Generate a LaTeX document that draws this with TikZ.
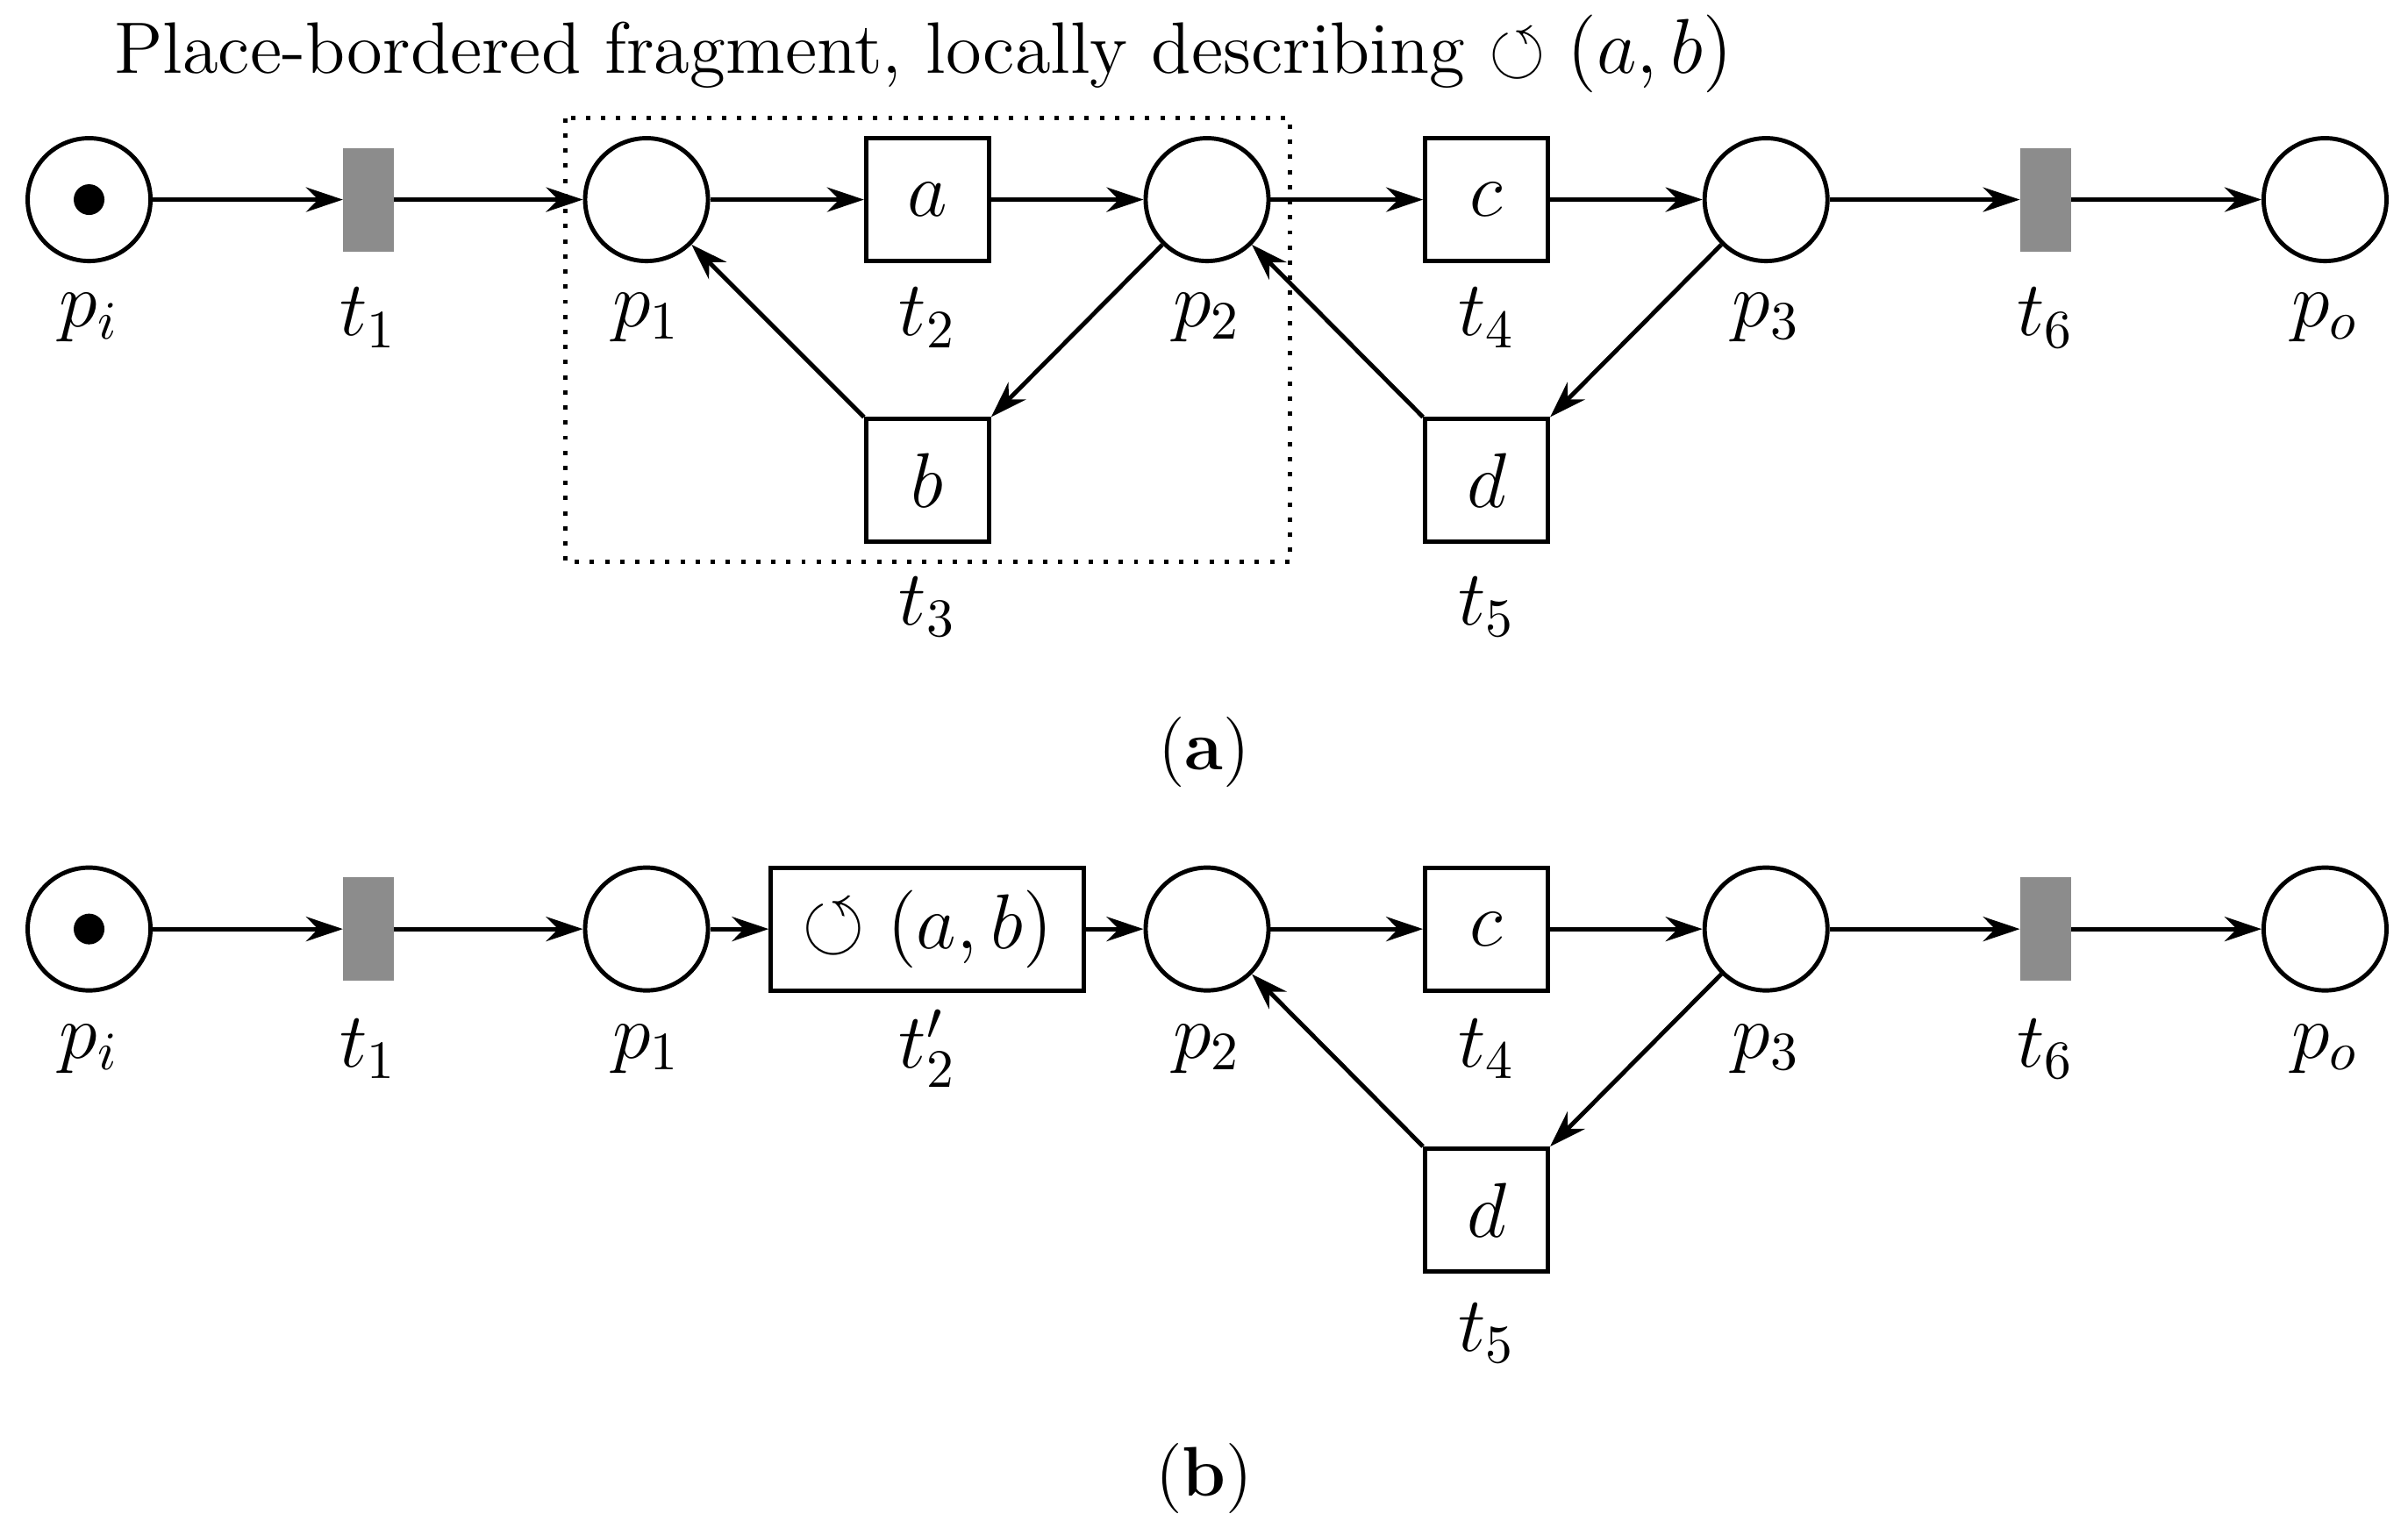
\documentclass[tikz,border=0pt]{standalone}
\usepackage{amssymb}
\usetikzlibrary{arrows.meta}
\begin{document}
\begin{tikzpicture}[x=0.1mm,y=-0.1mm,
  place/.style={circle,draw,line width=0.8pt,minimum size=8mm,inner sep=0pt},
  trans/.style={rectangle,draw,line width=0.8pt,minimum size=8mm,inner sep=0pt,font=\fontsize{15}{17}\selectfont},
  silent/.style={rectangle,fill=gray!90,draw=gray!90,minimum width=3.2mm,minimum height=6.6mm,inner sep=0pt},
  lab/.style={font=\fontsize{14.5}{16}\selectfont},
  arc/.style={-{Stealth[length=2.4mm,width=1.6mm]},line width=0.8pt},
  tok/.style={circle,fill=black,minimum size=2mm,inner sep=0pt}]
\useasboundingbox (0,0) rectangle (1568,990);
\node[anchor=west,font=\fontsize{13.5}{16}\selectfont] (title) at (62,35) {Place-bordered fragment, locally describing $\circlearrowleft(a,b)$};
% row a
\foreach \n/\x in {pi/58,p1/421,p2/786,p3/1150,po/1514} \node[place] (a\n) at (\x,130) {};
\node[tok] (atok) at (58,130) {};
\node[silent] (at1) at (240,130) {};
\node[silent] (at6) at (1332,130) {};
\node[trans] (at2) at (604,130) {$a$};
\node[trans] (at4) at (968,130) {$c$};
\node[trans] (at3) at (604,313) {$b$};
\node[trans] (at5) at (968,313) {$d$};
\foreach \n/\x/\t in {pi/58/p_i,t1/240/t_1,p1/421/p_1,t2/604/t_2,p2/786/p_2,t4/968/t_4,p3/1150/p_3,t6/1332/t_6,po/1514/p_o}
  \node[lab] (la\n) at (\x,207) {$\t$};
\node[lab] (lat3) at (604,395) {$t_3$};
\node[lab] (lat5) at (968,395) {$t_5$};
\draw[dotted,line width=0.8pt] (368,77) rectangle (840,366);
\draw[arc] (api)--(at1); \draw[arc] (at1)--(ap1); \draw[arc] (ap1)--(at2);
\draw[arc] (at2)--(ap2); \draw[arc] (ap2)--(at4); \draw[arc] (at4)--(ap3);
\draw[arc] (ap3)--(at6); \draw[arc] (at6)--(apo);
\draw[arc] (ap2)--(at3.north east); \draw[arc] (at3.north west)--(ap1);
\draw[arc] (ap3)--(at5.north east); \draw[arc] (at5.north west)--(ap2);
\node[font=\fontsize{13}{15}\selectfont] (capa) at (784,490) {(\textbf{a})};
% row b
\foreach \n/\x in {pi/58,p1/421,p2/786,p3/1150,po/1514} \node[place] (b\n) at (\x,605) {};
\node[tok] (btok) at (58,605) {};
\node[silent] (bt1) at (240,605) {};
\node[silent] (bt6) at (1332,605) {};
\node[trans,minimum width=20.4mm] (bt2) at (604,605) {$\circlearrowleft(a,b)$};
\node[trans] (bt4) at (968,605) {$c$};
\node[trans] (bt5) at (968,788) {$d$};
\foreach \n/\x/\t in {pi/58/p_i,t1/240/t_1,p1/421/p_1,t2/604/t'_2,p2/786/p_2,t4/968/t_4,p3/1150/p_3,t6/1332/t_6,po/1514/p_o}
  \node[lab] (lb\n) at (\x,683) {$\t$};
\node[lab] (lbt5) at (968,868) {$t_5$};
\draw[arc] (bpi)--(bt1); \draw[arc] (bt1)--(bp1); \draw[arc] (bp1)--(bt2);
\draw[arc] (bt2)--(bp2); \draw[arc] (bp2)--(bt4); \draw[arc] (bt4)--(bp3);
\draw[arc] (bp3)--(bt6); \draw[arc] (bt6)--(bpo);
\draw[arc] (bp3)--(bt5.north east); \draw[arc] (bt5.north west)--(bp2);
\node[font=\fontsize{13}{15}\selectfont] (capb) at (784,963) {(\textbf{b})};
\end{tikzpicture}
\end{document}
